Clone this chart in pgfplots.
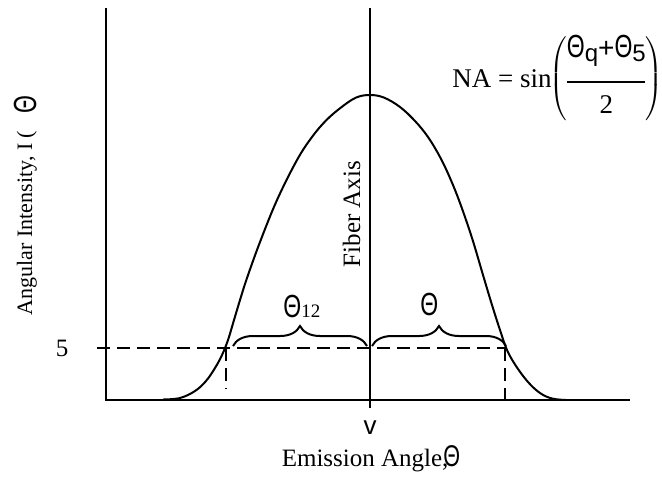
\documentclass[border=0pt]{standalone}
\usepackage{pgfplots}
\pgfplotsset{compat=1.18}
\usetikzlibrary{decorations.pathreplacing}
\usepackage{fontspec}
\setmainfont{Liberation Serif}
\newfontfamily\sansT{Liberation Sans}
\newcommand{\Th}{{\sansT\scalebox{0.72}[1]{\char"0398}}}
\begin{document}
\begin{tikzpicture}
\begin{axis}[
  width=331pt, height=239pt, scale only axis,
  xmin=0, xmax=662, ymin=0, ymax=478, y dir=reverse,
  hide axis, clip=false,
]
% axes
\addplot[black, line width=1.2pt] coordinates {(106,8) (106,400) (630,400)};
% fiber axis
\addplot[black, line width=1.2pt] coordinates {(370,8) (370,408)};
% dashed lines
\addplot[black, line width=1.1pt, dash pattern=on 6.5pt off 3.5pt] coordinates {(97,348) (505,348)};
\addplot[black, line width=1.1pt, dash pattern=on 6.5pt off 3.5pt] coordinates {(226,348) (226,389)};
\addplot[black, line width=1.1pt, dash pattern=on 6.5pt off 3.5pt] coordinates {(505,348) (505,399)};
% intensity curve
\addplot[black, line width=1pt, smooth, tension=0.6] coordinates {
 (163,399.5) (180,398) (195,391) (206,381) (215,368) (222,355) (228,340) (234,320)
 (240,300) (247,278) (260,242) (277,200) (297,160) (312,137) (326,120.5) (341,107.5) (356,97.6) (370,95)
 (384,97.6) (400,107) (415,121) (428,137) (440,157) (450,178) (460,203) (472,238) (483,275) (492,305) (500,330)
 (507,350) (516,366) (528,382) (540,393) (552,398.5) (566,400)
};
% braces
\addplot[black, line width=1pt, decorate, decoration={brace, amplitude=10pt, aspect=0.5}] coordinates {(233,346) (367,346)};
\addplot[black, line width=1pt, decorate, decoration={brace, amplitude=10pt, aspect=0.5}] coordinates {(372,346) (506,346)};
% labels
\node[font=\fontsize{12.5}{15}\selectfont] at (axis cs:62,348) {5};
\node[font=\fontsize{11}{13}\selectfont, rotate=90, anchor=base] at (axis cs:32,223) {Angular Intensity, I (};
\node[font=\fontsize{16}{18}\selectfont, rotate=90] at (axis cs:25,105) {\Th};
\node[font=\fontsize{12.5}{15}\selectfont, rotate=90, anchor=base] at (axis cs:360,214) {Fiber Axis};
\node[font=\fontsize{16}{18}\selectfont, anchor=base west, inner sep=0pt] at (axis cs:283,317) {\Th};
\node[font=\fontsize{9.5}{11}\selectfont, anchor=base west, inner sep=0pt] at (axis cs:301,317) {12};
\node[font=\fontsize{16}{18}\selectfont, anchor=base west, inner sep=0pt] at (axis cs:420,315) {\Th};
\node[font=\fontsize{13}{15}\selectfont, anchor=base, inner sep=0pt] at (axis cs:370,434) {\sansT v};
\node[font=\fontsize{12.5}{15}\selectfont, anchor=base, inner sep=0pt] at (axis cs:371,466) {Emission Angle,\kern-2.5pt{\fontsize{15}{18}\selectfont\Th}};
\node[font=\fontsize{13.5}{16}\selectfont, anchor=base west, inner sep=0pt] at (axis cs:452,87) {NA = sin};
\node[font=\fontsize{13.5}{16}\selectfont, anchor=west, inner sep=0pt] at (axis cs:549,79) {$\left(\vcenter{\hbox{\begin{tabular}{@{}c@{}}{\fontsize{16}{18}\selectfont\Th}{\sansT\fontsize{12}{14}\selectfont\raisebox{-2pt}{q}}{\sansT\fontsize{14}{16}\selectfont +}{\fontsize{16}{18}\selectfont\Th}{\sansT\fontsize{12}{14}\selectfont\raisebox{-2pt}{5}}\\[-3pt]\rule{39pt}{1.2pt}\\[-1pt]2\end{tabular}}}\right)$};
\end{axis}
\pgfresetboundingbox
\useasboundingbox (0,0) rectangle (331pt,239pt);
\end{tikzpicture}
\end{document}
